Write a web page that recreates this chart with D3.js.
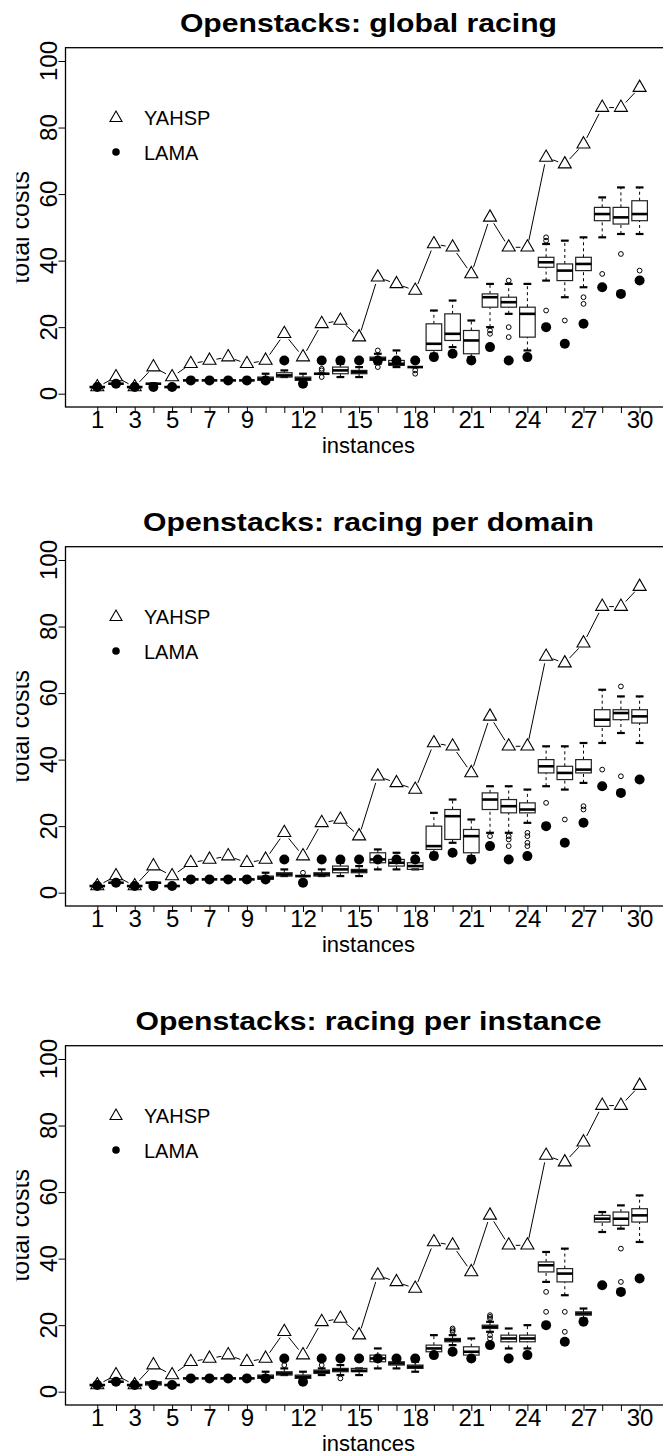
<!DOCTYPE html>
<html>
<head>
<meta charset="utf-8">
<script src="https://cdn.jsdelivr.net/npm/d3@7"></script>
<style>
  body { margin: 0; background: #fff; }
  svg { display: block; font-family: "Liberation Sans", Arial, sans-serif; }
</style>
</head>
<body>
<svg width="663" height="1456"></svg>
<script>
// ---- data ----
var instances = d3.range(1, 31);
var xLabels = [1, 3, 5, 7, 9, 12, 15, 18, 21, 24, 27, 30];
var yTicks = [0, 20, 40, 60, 80, 100];
var titles = ["Openstacks: global racing", "Openstacks: racing per domain", "Openstacks: racing per instance"];

var yahsp = [2, 5, 2, 8, 5, 9, 10, 11, 9, 10, 18, 11, 21, 22, 17, 35, 33, 31, 45, 44, 36, 53, 44, 44, 71, 69, 75, 86, 86, 92];
var lama = [2, 3, 2, 2, 2, 4, 4, 4, 4, 4, 10, 3, 10, 10, 10, 10, 10, 10, 11, 12, 10, 14, 10, 11, 20, 15, 21, 32, 30, 34];

// [lower whisker, q1, median, q3, upper whisker]
var globalStats = [
  [2,2,2,2,2], [3,3,3,3,3], [2,2,2,2,2], [3,3,3,3,3], [2,2,2,2,2],
  [4,4,4,4,4], [4,4,4,4,4], [4,4,4,4,4], [4,4,4,4,4], [4,4,4.5,5,6],
  [5,5,5.5,6.3,7], [4,4,4.5,5,6], [6,6,6,6,6], [5,6,7,8,9], [5,6,6.5,7,8],
  [9,10,10.5,11,12], [8,8.5,9,10,13], [8,8,8,8,8], [12,13,15,21,25], [14,16,18,24,28],
  [11,12,16,19,22], [20,26,29,30,33], [24,26,27.5,29,33], [13,17,24,26,33], [34,38,39.5,41,45],
  [29,34,37,39,46], [32,37,39,41,47], [47,52,54,56,59], [48,51,53,56,62], [48,52,54,58,62]
];
var globalOut = [
  [], [], [], [], [], [], [], [], [], [],
  [], [], [7.5, 7, 5], [], [], [13, 8], [], [7, 6], [], [],
  [], [19, 18], [34, 20, 17], [], [47, 46, 25], [22], [29, 27], [36], [42], [37]
];

var domainStats = [
  [2,2,2,2,2], [3,3,3,3,3], [2,2,2,2,2], [3,3,3,3,3], [2,2,2,2,2],
  [4,4,4,4,4], [4,4,4,4,4], [4,4,4,4,4], [4,4,4,4,4], [4,4,4.5,5,6],
  [5,5,5.5,6,7], [5,5,5,5,5], [5,5,5.5,6,7], [5,6,7,8,9], [5,6,6.5,7,8],
  [7,9,10,12,13], [7,8,9,10,12], [7,7,8,9,12], [12,13,14,20,24], [15,16,23,25,28],
  [11,12,17,19,22], [18,25,28,30,32], [18,24,26,28,32], [21,24,25,27,31], [32,36,38,40,44],
  [31,34,36,38,44], [33,36,37,40,45], [45,50,52,55,61], [48,52,54,55,59], [45,51,53,55,59]
];
var domainOut = [
  [], [], [], [], [], [], [], [], [], [],
  [], [6], [], [], [], [], [], [], [], [],
  [], [17], [17, 16, 14], [18, 17, 15, 14], [27], [22], [26, 25], [37], [62, 35], []
];

var instanceStats = [
  [2,2,2,2,2], [3,3,3,3,3], [2,2,2,2,2], [2,2,2.5,3,3], [2,2,2,2,2],
  [4,4,4,4,4], [4,4,4,4,4], [4,4,4,4,4], [4,4,4,4,4], [4,4,4.5,5,6],
  [5,5,5.5,6,7], [4,4,4.5,5,6], [5,5.5,6,6.5,7], [5,6,6.5,7,8], [5,6,6.3,7,7],
  [7,9,10,11,13], [7,8,8.5,9,10], [6,7,7.5,8,9], [11,12,13,14,17], [14,15,15.5,16,17],
  [10,11,12,13.5,16], [18,19,19.5,20,21], [13,15,16,17,19], [13,15,16,17,20], [33,36,38,39,42],
  [29,33,35.5,37,43], [22,23,23.5,24,25], [48,51,52,53,54], [49,50,52,54,56], [45,51,53,55,59]
];
var instanceOut = [
  [], [], [], [], [], [], [], [], [], [],
  [8], [], [8], [4], [], [], [], [], [], [19, 18.5, 18],
  [], [23, 22.5, 22, 17, 16], [], [], [30, 24], [24, 18], [], [], [43, 33], []
];

// ---- layout ----
var svg = d3.select("svg");
svg.append("rect").attr("width", 663).attr("height", 1456).attr("fill", "#fff");

var panelStep = 499;
var plotTop = 47.7, plotBottom = 407, plotLeft = 65.5, plotRight = 671.4;

var x = d3.scaleLinear().domain([-0.7, 31.7]).range([plotLeft, plotRight]);
var y = d3.scaleLinear().domain([-4, 104]).range([plotBottom, plotTop]);

var boxW = 15.6, stapleW = 7.8;

// the y title is cut at the left edge in the original
svg.append("defs").append("clipPath").attr("id", "ylabClip")
  .append("rect").attr("x", 16.5).attr("y", 0).attr("width", 100).attr("height", 1456);

function trianglePath(cx, cy, s) {
  var h = s * 0.866;
  return "M" + cx + "," + (cy - 2 * h / 3) +
    "L" + (cx + s / 2) + "," + (cy + h / 3) +
    "L" + (cx - s / 2) + "," + (cy + h / 3) + "Z";
}

function drawPanel(k, title, stats, outs) {
  var g = svg.append("g").attr("transform", "translate(0," + (k * panelStep) + ")");

  // title
  var t = g.append("text")
    .attr("x", (plotLeft + plotRight) / 2).attr("y", 32)
    .attr("text-anchor", "middle")
    .attr("font-size", 26).attr("font-weight", "bold")
    .text(title);
  var tw = t.node().getComputedTextLength();
  t.attr("textLength", tw * 1.16).attr("lengthAdjust", "spacingAndGlyphs");

  // frame
  g.append("rect")
    .attr("x", plotLeft).attr("y", plotTop)
    .attr("width", plotRight - plotLeft).attr("height", plotBottom - plotTop)
    .attr("fill", "none").attr("stroke", "#000").attr("stroke-width", 1.3);

  // x axis
  var xAxis = d3.axisBottom(x)
    .tickValues(instances)
    .tickSize(6).tickPadding(0)
    .tickFormat(function(d) { return xLabels.indexOf(d) >= 0 ? d : ""; });
  var xa = g.append("g").attr("transform", "translate(0," + plotBottom + ")").call(xAxis);
  xa.select(".domain").remove();
  xa.selectAll("line").attr("stroke", "#000");
  xa.selectAll("text").attr("y", 4).attr("font-size", 24)
    .attr("font-family", "Liberation Sans, Arial, sans-serif").attr("fill", "#000");

  g.append("text")
    .attr("x", (plotLeft + plotRight) / 2).attr("y", 452.5)
    .attr("text-anchor", "middle").attr("font-size", 22)
    .text("instances");

  // y axis
  var yAxis = d3.axisLeft(y).tickValues(yTicks).tickSize(7).tickFormat("");
  var ya = g.append("g").attr("transform", "translate(" + plotLeft + ",0)").call(yAxis);
  ya.select(".domain").remove();
  ya.selectAll("line").attr("stroke", "#000");
  g.selectAll(".ylab").data(yTicks).enter().append("text")
    .attr("class", "ylab")
    .attr("transform", function(d) { return "translate(57," + y(d) + ") rotate(-90)"; })
    .attr("text-anchor", "middle").attr("font-size", 24)
    .text(function(d) { return d; });

  g.append("g").attr("clip-path", "url(#ylabClip)")
    .append("text")
    .attr("transform", "translate(29," + ((plotTop + plotBottom) / 2) + ") rotate(-90)")
    .attr("text-anchor", "middle").attr("font-size", 25)
    .text("total costs");

  // boxplots
  var bx = g.append("g");
  stats.forEach(function(s, i) {
    var cx = x(instances[i]);
    // whiskers
    bx.append("line").attr("x1", cx).attr("x2", cx).attr("y1", y(s[0])).attr("y2", y(s[1]))
      .attr("stroke", "#000").attr("stroke-width", 1).attr("stroke-dasharray", "3,3");
    bx.append("line").attr("x1", cx).attr("x2", cx).attr("y1", y(s[3])).attr("y2", y(s[4]))
      .attr("stroke", "#000").attr("stroke-width", 1).attr("stroke-dasharray", "3,3");
    // staples
    [s[0], s[4]].forEach(function(v) {
      bx.append("line").attr("x1", cx - stapleW / 2).attr("x2", cx + stapleW / 2)
        .attr("y1", y(v)).attr("y2", y(v)).attr("stroke", "#000").attr("stroke-width", 2.2);
    });
    // box
    bx.append("rect").attr("x", cx - boxW / 2).attr("width", boxW)
      .attr("y", y(s[3])).attr("height", Math.max(0, y(s[1]) - y(s[3])))
      .attr("fill", "none").attr("stroke", "#222").attr("stroke-width", 1.2);
    // median
    bx.append("line").attr("x1", cx - boxW / 2).attr("x2", cx + boxW / 2)
      .attr("y1", y(s[2])).attr("y2", y(s[2])).attr("stroke", "#000").attr("stroke-width", 2.6);
    // outliers
    outs[i].forEach(function(v) {
      bx.append("circle").attr("cx", cx).attr("cy", y(v)).attr("r", 2.4)
        .attr("fill", "none").attr("stroke", "#000").attr("stroke-width", 1);
    });
  });

  // YAHSP: line with gaps (type "b") + open triangles
  var gap = 7;
  var ln = g.append("g");
  for (var i = 0; i < yahsp.length - 1; i++) {
    var x0 = x(instances[i]), y0 = y(yahsp[i]), x1 = x(instances[i + 1]), y1 = y(yahsp[i + 1]);
    var dx = x1 - x0, dy = y1 - y0, len = Math.sqrt(dx * dx + dy * dy);
    if (len <= 2 * gap) continue;
    var ux = dx / len, uy = dy / len;
    ln.append("line")
      .attr("x1", x0 + ux * gap).attr("y1", y0 + uy * gap)
      .attr("x2", x1 - ux * gap).attr("y2", y1 - uy * gap)
      .attr("stroke", "#000").attr("stroke-width", 1);
  }
  g.selectAll(".tri").data(yahsp).enter().append("path")
    .attr("class", "tri")
    .attr("d", function(d, i) { return trianglePath(x(instances[i]), y(d), 13); })
    .attr("fill", "none").attr("stroke", "#000").attr("stroke-width", 1.1);

  // LAMA: filled dots
  g.selectAll(".dot").data(lama).enter().append("circle")
    .attr("class", "dot")
    .attr("cx", function(d, i) { return x(instances[i]); })
    .attr("cy", function(d) { return y(d); })
    .attr("r", 5).attr("fill", "#000");

  // legend
  g.append("path").attr("d", trianglePath(116, 118, 12))
    .attr("fill", "none").attr("stroke", "#000").attr("stroke-width", 1.1);
  g.append("text").attr("x", 144).attr("y", 124.5).attr("font-size", 20).text("YAHSP");
  g.append("circle").attr("cx", 116).attr("cy", 152).attr("r", 3.8).attr("fill", "#000");
  g.append("text").attr("x", 144).attr("y", 159.5).attr("font-size", 20).text("LAMA");
}

drawPanel(0, titles[0], globalStats, globalOut);
drawPanel(1, titles[1], domainStats, domainOut);
drawPanel(2, titles[2], instanceStats, instanceOut);
</script>
</body>
</html>
